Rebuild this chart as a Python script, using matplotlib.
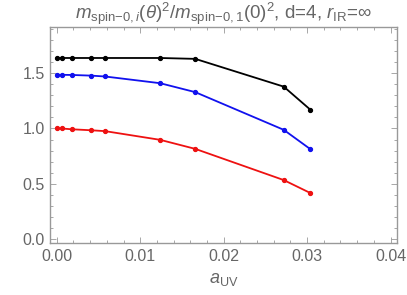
import matplotlib
matplotlib.use("Agg")
import matplotlib.pyplot as plt
from matplotlib.ticker import MultipleLocator, FormatStrFormatter

plt.rcParams["font.family"] = ["Liberation Sans", "DejaVu Sans"]
plt.rcParams["mathtext.fontset"] = "custom"
plt.rcParams["mathtext.rm"] = "Liberation Sans"
plt.rcParams["mathtext.it"] = "Liberation Sans:italic"

# data
a_uv = [0.0, 0.0006, 0.0018, 0.0041, 0.0058, 0.0124, 0.0166, 0.0272, 0.0304]
mode_1 = [1.0, 1.0, 0.993, 0.984, 0.976, 0.897, 0.815, 0.532, 0.414]
mode_2 = [1.487, 1.487, 1.486, 1.480, 1.472, 1.411, 1.330, 0.988, 0.812]
mode_3 = [1.640, 1.640, 1.640, 1.640, 1.640, 1.640, 1.632, 1.380, 1.170]

GRAY = "#666666"

fig = plt.figure(figsize=(4.07, 2.95), dpi=100)
ax = fig.add_axes([0.123, 0.176, 0.853, 0.732])

for y, c in [(mode_1, "#ee1111"), (mode_2, "#1111ee"), (mode_3, "black")]:
    ax.plot(a_uv, y, color=c, lw=1.3, marker="o", ms=2.8)

ax.set_xlim(-0.0008, 0.0408)
ax.set_ylim(-0.04, 1.92)
ax.xaxis.set_major_locator(MultipleLocator(0.01))
ax.xaxis.set_minor_locator(MultipleLocator(0.002))
ax.yaxis.set_major_locator(MultipleLocator(0.5))
ax.yaxis.set_minor_locator(MultipleLocator(0.1))
ax.xaxis.set_major_formatter(FormatStrFormatter("%.2f"))
ax.yaxis.set_major_formatter(FormatStrFormatter("%.1f"))

ax.tick_params(which="both", direction="in", top=True, right=True,
               color="#999999", labelcolor=GRAY, labelsize=11.5, width=0.6)
ax.tick_params(which="major", length=4, pad=4)
ax.tick_params(which="minor", length=2)
for s in ax.spines.values():
    s.set_color("#999999")
    s.set_linewidth(1.0)

ax.set_xlabel(r"$a_{\mathrm{UV}}$", color=GRAY, fontsize=13, labelpad=5)
ax.set_title(r"$m_{\mathrm{spin}\mathrm{-}\mathrm{0},i}(\theta)^2/m_{\mathrm{spin}\mathrm{-}\mathrm{0},1}(0)^2$, d=4, $r_{\mathrm{IR}}$=$\infty$",
             color=GRAY, fontsize=13.5, pad=5)

fig.savefig("out.png", dpi=100)
